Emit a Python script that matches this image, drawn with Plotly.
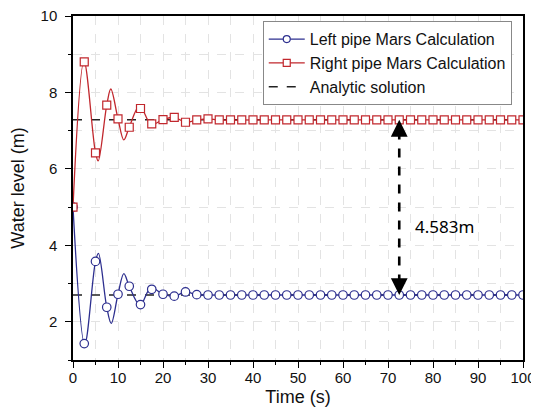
import plotly.graph_objects as go

# ---- data ----
marker_t = [0, 2.5, 5, 7.5, 10, 12.5, 15, 17.5, 20, 22.5, 25, 27.5, 30, 32.5, 35, 37.5,
            40, 42.5, 45, 47.5, 50, 52.5, 55, 57.5, 60, 62.5, 65, 67.5, 70, 72.5, 75,
            77.5, 80, 82.5, 85, 87.5, 90, 92.5, 95, 97.5, 100]
left_marker = [5.00, 1.43, 3.58, 2.38, 2.72, 2.93, 2.45, 2.85, 2.72, 2.67, 2.78, 2.71, 2.70,
               2.70, 2.70, 2.70, 2.70, 2.70, 2.70, 2.70, 2.70, 2.70, 2.70, 2.70, 2.70, 2.70,
               2.70, 2.70, 2.70, 2.70, 2.70, 2.70, 2.70, 2.70, 2.70, 2.70, 2.70, 2.70, 2.70,
               2.70, 2.70]
right_marker = [5.00, 8.80, 6.42, 7.67, 7.31, 7.09, 7.58, 7.18, 7.29, 7.35, 7.22, 7.28, 7.31,
                7.28, 7.28, 7.28, 7.28, 7.28, 7.28, 7.28, 7.28, 7.28, 7.28, 7.28, 7.28, 7.28,
                7.28, 7.28, 7.28, 7.28, 7.28, 7.28, 7.28, 7.28, 7.28, 7.28, 7.28, 7.28, 7.28,
                7.28, 7.28]

left_curve_t = [0, 2.6, 5, 5.65, 7.5, 8.5, 10, 11.3, 12.5, 14.9, 17.3, 20, 22.5, 25, 27.5, 30, 40, 60, 100]
left_curve = [5.00, 1.41, 3.58, 3.79, 2.38, 1.96, 2.72, 3.26, 2.93, 2.43, 2.89, 2.72, 2.67, 2.78, 2.71, 2.70, 2.70, 2.70, 2.70]
right_curve_t = [0, 2.45, 5, 5.6, 7.5, 8.4, 10, 11.3, 12.5, 14.8, 17.4, 20, 22.5, 25, 27.5, 30, 32.5, 40, 60, 100]
right_curve = [5.00, 8.82, 6.42, 6.21, 7.67, 8.09, 7.31, 6.76, 7.09, 7.65, 7.16, 7.29, 7.35, 7.22, 7.28, 7.31, 7.28, 7.28, 7.28, 7.28]

analytic_left = 2.700
analytic_right = 7.283
arrow_t = 72.5
diff_label = "4.583m"

x_ticks = [0, 10, 20, 30, 40, 50, 60, 70, 80, 90, 100]
y_ticks = [2, 4, 6, 8, 10]

BLUE = "#2d2f8f"
RED = "#c1272d"
FONT = "Liberation Sans, Arial, sans-serif"

fig = go.Figure()

# analytic solution lines
for val in (analytic_left, analytic_right):
    fig.add_trace(go.Scatter(x=[0, 100], y=[val, val], mode="lines",
                             line=dict(color="#222222", width=1.5, dash="dash"), showlegend=False,
                             hoverinfo="skip"))

# curves
fig.add_trace(go.Scatter(x=left_curve_t, y=left_curve, mode="lines", line_shape="spline",
                         line=dict(color=BLUE, width=1.3, smoothing=1.0), showlegend=False))
fig.add_trace(go.Scatter(x=right_curve_t, y=right_curve, mode="lines", line_shape="spline",
                         line=dict(color=RED, width=1.3, smoothing=1.0), showlegend=False))

# markers
fig.add_trace(go.Scatter(x=marker_t, y=left_marker, mode="markers", showlegend=False,
                         marker=dict(symbol="circle", size=8.5, color="white",
                                     line=dict(color=BLUE, width=1.2))))
fig.add_trace(go.Scatter(x=marker_t, y=right_marker, mode="markers", showlegend=False,
                         marker=dict(symbol="square", size=8, color="white",
                                     line=dict(color=RED, width=1.2))))

# legend entries
fig.add_trace(go.Scatter(x=[None], y=[None], mode="lines+markers", name="Left pipe Mars Calculation",
                         line=dict(color=BLUE, width=1.3),
                         marker=dict(symbol="circle", size=7, color="white", line=dict(color=BLUE, width=1.2))))
fig.add_trace(go.Scatter(x=[None], y=[None], mode="lines+markers", name="Right pipe Mars Calculation",
                         line=dict(color=RED, width=1.3),
                         marker=dict(symbol="square", size=7, color="white", line=dict(color=RED, width=1.2))))
fig.add_trace(go.Scatter(x=[None], y=[None], mode="lines", name="Analytic solution",
                         line=dict(color="#222222", width=1.5, dash="dash")))

# double arrow (dashed shaft + heads)
fig.add_shape(type="line", x0=arrow_t, x1=arrow_t, y0=analytic_left + 0.3, y1=analytic_right - 0.3,
              line=dict(color="black", width=2.6, dash="dash"))
for tip, ay in [(analytic_right, 14), (analytic_left, -14)]:
    fig.add_annotation(x=arrow_t, y=tip, ax=0, ay=ay, axref="pixel", ayref="pixel",
                       showarrow=True, arrowhead=2, arrowsize=1.4, arrowwidth=2.4,
                       arrowcolor="black", text="")
fig.add_annotation(x=arrow_t + 3.1, y=4.5, text=diff_label, showarrow=False, xanchor="left",
                   yanchor="middle", font=dict(family="Noto Sans, sans-serif", size=17, color="black"))

axis_common = dict(showline=True, linecolor="black", linewidth=1.5, mirror=True,
                   ticks="outside", ticklen=6, tickwidth=1.3, tickcolor="black",
                   showgrid=False, zeroline=False, automargin=False,
                   ticklabeloverflow="allow",
                   tickfont=dict(family=FONT, size=15, color="#111111"))

fig.update_xaxes(range=[0, 100], tickvals=x_ticks, ticklabelstandoff=-3,
                 title=dict(text="Time (s)", font=dict(family=FONT, size=18, color="#111111"), standoff=10),
                 minor=dict(dtick=5, ticks="outside", ticklen=3, tickcolor="black", showgrid=True,
                            gridcolor="#e3e3e3", griddash="dash", gridwidth=1),
                 **axis_common)
fig.update_yaxes(range=[1, 10], tickvals=y_ticks, ticklabelstandoff=5,
                 title=dict(text="Water level (m)", font=dict(family=FONT, size=18, color="#111111"), standoff=22),
                 minor=dict(dtick=1, ticks="outside", ticklen=3, tickcolor="black", showgrid=True,
                            gridcolor="#e3e3e3", griddash="dash", gridwidth=1),
                 **axis_common)

fig.update_layout(
    width=531, height=399,
    margin=dict(l=65, r=16, t=8, b=47),
    plot_bgcolor="white", paper_bgcolor="white",
    legend=dict(x=0.975, y=0.985, xanchor="right", yanchor="top",
                bgcolor="white", bordercolor="#888888", borderwidth=1,
                font=dict(family=FONT, size=16, color="#111111"),
                tracegroupgap=0, itemwidth=36),
)

fig.write_html("out.html")
